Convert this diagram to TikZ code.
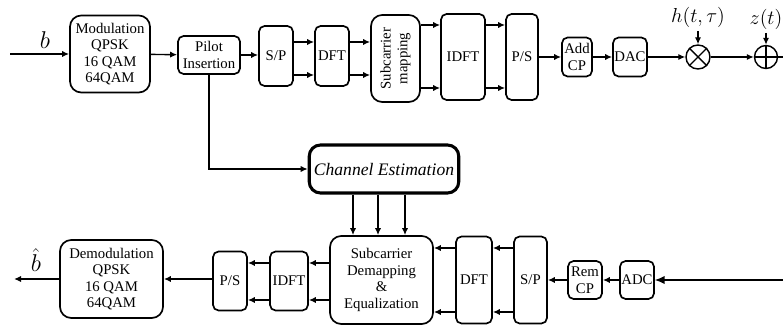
\documentclass[tikz,border=0pt]{standalone}
\usepackage{fontspec}
\setmainfont{Liberation Serif}
\usetikzlibrary{arrows.meta}
\begin{document}
\begin{tikzpicture}[x=0.025cm, y=-0.025cm,
    blk/.style={draw, line width=1.2pt, rounded corners=4pt, align=center, inner sep=1pt, font=\fontsize{10.5}{11.8}\selectfont},
    big/.style={blk, rounded corners=8pt},
    arr/.style={-{Latex[length=5pt,width=4.5pt]}, line width=1pt}]
    \useasboundingbox (0,0) rectangle (783,326);
    % transmitter
    \node[big, minimum width=2cm, minimum height=1.925cm] (mod) at (110,54) {Modulation\\QPSK\\16 QAM\\64QAM};
    \node[blk, minimum width=1.55cm, minimum height=0.95cm] (pilot) at (209,55) {Pilot\\Insertion};
    \node[blk, minimum width=0.85cm, minimum height=1.5cm] (sp1) at (276,56) {S/P};
    \node[blk, minimum width=0.85cm, minimum height=1.5cm] (dft1) at (332,56) {DFT};
    \node[big, minimum width=2.175cm, minimum height=1.225cm, rotate=90] (map) at (395.5,58.5) {Subcarrier\\mapping};
    \node[blk, minimum width=1.1cm, minimum height=2.15cm] (idft1) at (463,57) {IDFT};
    \node[blk, minimum width=0.8cm, minimum height=2.15cm] (ps1) at (522,57) {P/S};
    \node[blk, minimum width=0.75cm, minimum height=0.975cm] (addcp) at (577,57) {Add\\CP};
    \node[blk, minimum width=0.8cm, minimum height=0.975cm] (dac) at (630,57) {DAC};
    \node[draw, circle, line width=1pt, minimum size=0.6cm, inner sep=0pt] (mult) at (698,57) {};
    \node[draw, circle, line width=1pt, minimum size=0.575cm, inner sep=0pt] (add) at (766,57) {};
    \draw[line width=1pt] (mult.north west) -- (mult.south east) (mult.north east) -- (mult.south west);
    \draw[line width=1pt] (add.north) -- (add.south) (add.west) -- (add.east);
    \node[font=\fontsize{14}{16}\selectfont, inner sep=0pt] (h) at (698,17) {$h(t,\tau)$};
    \node[font=\fontsize{14}{16}\selectfont, inner sep=0pt] (z) at (766,19) {$z(t)$};
    \node[font=\fontsize{17}{19}\selectfont, inner sep=0pt] (b) at (45,40) {$b$};
    \coordinate (bin) at (10,54);
    \coordinate (out) at (783,57);
    \draw[arr] (bin) -- (mod.west |- bin);
    \draw[arr] (mod) -- (pilot);
    \draw[arr] (pilot.east) -- (sp1.west |- pilot.east);
    \foreach \y in {42,75} {
        \draw[arr] (sp1.east |- 0,\y) -- (dft1.west |- 0,\y);
        \draw[arr] (dft1.east |- 0,\y) -- (map.north |- 0,\y);
    }
    \foreach \y in {25,88} {
        \draw[arr] (map.south |- 0,\y) -- (idft1.west |- 0,\y);
        \draw[arr] (idft1.east |- 0,\y) -- (ps1.west |- 0,\y);
    }
    \draw[arr] (ps1) -- (addcp);
    \draw[arr] (addcp) -- (dac);
    \draw[arr] (dac) -- (mult);
    \draw[arr] (mult) -- (add);
    \draw[line width=1pt] (add.east) -- (out);
    \draw[arr] (mult.north |- 0,31) -- (mult.north);
    \draw[arr] (add.north |- 0,33) -- (add.north);
    % channel estimation
    \node[draw, line width=2.2pt, rounded corners=8pt, minimum width=3.6cm, minimum height=1.2cm,
        font=\fontsize{12.5}{14}\selectfont\itshape] (ce) at (384,169) {Channel Estimation};
    \draw[arr] (pilot.south) |- (ce.west);
    % receiver
    \node[big, minimum width=2.575cm, minimum height=2.2cm] (eq) at (381.5,280) {Subcarrier\\Demapping\\\&\\Equalization};
    \node[blk, minimum width=0.9cm, minimum height=2.175cm] (dft2) at (474,280) {DFT};
    \node[blk, minimum width=0.825cm, minimum height=2.175cm] (sp2) at (530.5,280) {S/P};
    \node[blk, minimum width=0.85cm, minimum height=0.95cm] (remcp) at (585,280) {Rem\\CP};
    \node[blk, minimum width=0.8cm, minimum height=0.95cm] (adc) at (637,280) {ADC};
    \node[blk, minimum width=0.95cm, minimum height=1.475cm] (idft2) at (289,281) {IDFT};
    \node[blk, minimum width=0.85cm, minimum height=1.475cm] (ps2) at (230,281) {P/S};
    \node[big, minimum width=2.575cm, minimum height=1.95cm] (demod) at (111.5,279) {Demodulation\\QPSK\\16 QAM\\64QAM};
    \node[font=\fontsize{17}{19}\selectfont, inner sep=0pt] (bh) at (36,260) {$\hat{b}$};
    \coordinate (rin) at (783,280);
    \coordinate (bout) at (14,279);
    \foreach \x in {353,378,405}
        \draw[arr] (\x,0 |- ce.south) -- (\x,0 |- eq.north);
    \draw[-{Latex[length=7pt,width=6pt]}, line width=1pt] (rin) -- (adc.east);
    \draw[arr] (adc) -- (remcp);
    \draw[arr] (remcp.west) -- (sp2.east |- remcp.west);
    \foreach \y in {248,312} {
        \draw[arr] (sp2.west |- 0,\y) -- (dft2.east |- 0,\y);
        \draw[arr] (dft2.west |- 0,\y) -- (eq.east |- 0,\y);
    }
    \foreach \y in {263,300} {
        \draw[arr] (eq.west |- 0,\y) -- (idft2.east |- 0,\y);
        \draw[arr] (idft2.west |- 0,\y) -- (ps2.east |- 0,\y);
    }
    \draw[arr] (ps2.west |- demod.east) -- (demod.east);
    \draw[arr] (demod.west) -- (bout);
\end{tikzpicture}
\end{document}
